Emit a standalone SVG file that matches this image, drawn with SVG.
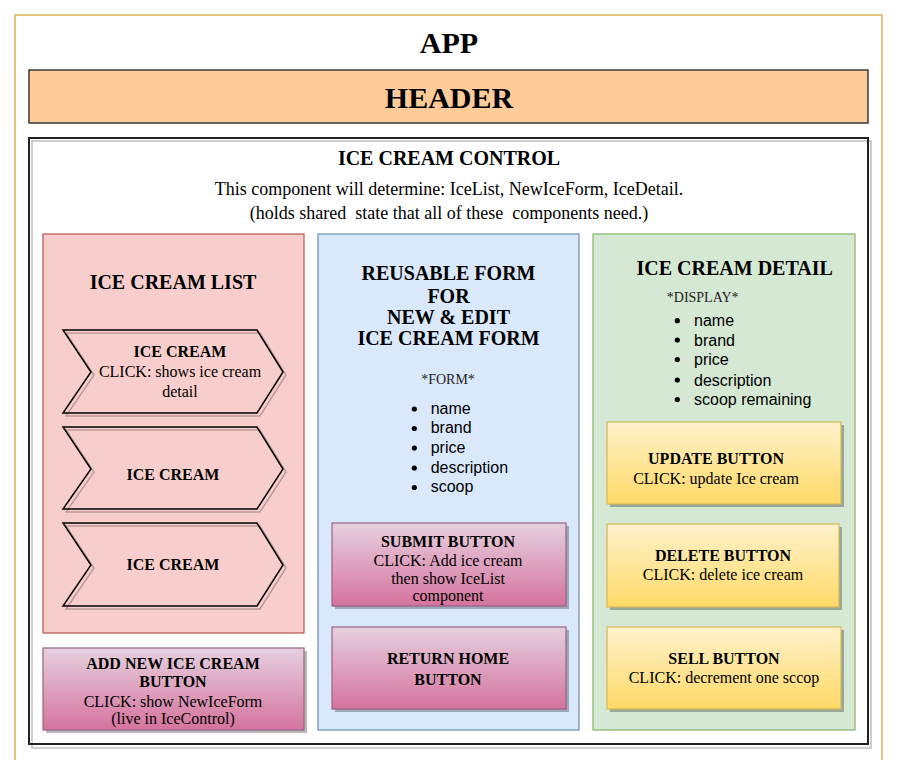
<svg xmlns="http://www.w3.org/2000/svg" width="898" height="760" viewBox="0 0 898 760">
<style>
.serif{font-family:"Liberation Serif","Times New Roman",serif;fill:#000}
.sans{font-family:"Liberation Sans",Arial,sans-serif;fill:#000;font-size:16px}
.b{font-weight:bold}
.t{font-size:16px}
.sub{font-size:18px}
.h{font-size:20px;font-weight:bold}
.big{font-size:30px;font-weight:bold}
.small{font-size:14px;fill:#222}
.shadow{fill:#000;fill-opacity:0.28}
.sline{fill:none;stroke:#000;stroke-opacity:0.25;stroke-width:1.5}
.chev{fill:none;stroke:#000;stroke-width:1.5}
.pinkbtn{fill:url(#gPink);stroke:#996185;stroke-width:1.2}
.yelbtn{fill:url(#gYel);stroke:#d6b656;stroke-width:1.2}
.dot{fill:#000}
</style>
<defs>
<linearGradient id="gPink" x1="0" y1="0" x2="0" y2="1"><stop offset="0" stop-color="#e6d0de"/><stop offset="1" stop-color="#d5739d"/></linearGradient>
<linearGradient id="gYel" x1="0" y1="0" x2="0" y2="1"><stop offset="0" stop-color="#fff2cc"/><stop offset="1" stop-color="#ffd966"/></linearGradient>
</defs>
<rect width="898" height="760" fill="#fff"/>

<g id="app">
<rect x="15" y="15" width="867" height="760" fill="#fff" stroke="#d6b656" stroke-width="1.5"/>
<text class="serif big" x="449" y="53" text-anchor="middle">APP</text>
</g>

<g id="header">
<rect x="29" y="70" width="839" height="53" fill="#ffcc99" stroke="#36393d" stroke-width="1.5"/>
<text class="serif big" x="449" y="108" text-anchor="middle">HEADER</text>
</g>

<g id="ice-cream-control">
<rect class="sline" x="32" y="141" width="839" height="607"/>
<rect x="29" y="138" width="839" height="606" fill="none" stroke="#222" stroke-width="2"/>
<text class="serif h" x="449" y="165" text-anchor="middle">ICE CREAM CONTROL</text>
<text class="serif sub" x="449" y="195" text-anchor="middle">This component will determine: IceList, NewIceForm, IceDetail.</text>
<text class="serif sub" x="449" y="219" text-anchor="middle" style="white-space:pre">(holds shared  state that all of these  components need.)</text>
</g>

<g id="ice-cream-list">
<rect x="43" y="234" width="261" height="399" fill="#f8cecc" stroke="#b85450" stroke-width="1.2"/>
<text class="serif h" x="173" y="289" text-anchor="middle">ICE CREAM LIST</text>
</g>

<g id="ice-cream-1">
<polygon class="sline" points="66,333 260,333 286,375 260,416 66,416 94,375"/>
<polygon class="chev" points="63,330 257,330 283,372 257,413 63,413 91,372"/>
<text class="serif t b" x="180" y="357" text-anchor="middle">ICE CREAM</text>
<text class="serif t" x="180" y="377" text-anchor="middle">CLICK: shows ice cream</text>
<text class="serif t" x="180" y="397" text-anchor="middle">detail</text>
</g>

<g id="ice-cream-2">
<polygon class="sline" points="66,430 260,430 286,472 260,512 66,512 94,472"/>
<polygon class="chev" points="63,427 257,427 283,469 257,509 63,509 91,469"/>
<text class="serif t b" x="173" y="480" text-anchor="middle">ICE CREAM</text>
</g>

<g id="ice-cream-3">
<polygon class="sline" points="66,526 260,526 286,568 260,609 66,609 94,568"/>
<polygon class="chev" points="63,523 257,523 283,565 257,606 63,606 91,565"/>
<text class="serif t b" x="173" y="570" text-anchor="middle">ICE CREAM</text>
</g>

<g id="add-new-button">
<rect class="shadow" x="46" y="651" width="261" height="82"/>
<rect class="pinkbtn" x="43" y="648" width="261" height="82"/>
<text class="serif t b" x="173" y="669" text-anchor="middle">ADD NEW ICE CREAM</text>
<text class="serif t b" x="173" y="687" text-anchor="middle">BUTTON</text>
<text class="serif t" x="173" y="707" text-anchor="middle">CLICK: show NewIceForm</text>
<text class="serif t" x="173" y="724" text-anchor="middle">(live in IceControl)</text>
</g>

<g id="reusable-form">
<rect x="318" y="234" width="261" height="496" fill="#dae8fc" stroke="#6c8ebf" stroke-width="1.2"/>
<text class="serif h" x="448.5" y="280" text-anchor="middle">REUSABLE FORM</text>
<text class="serif h" x="448.5" y="303" text-anchor="middle">FOR</text>
<text class="serif h" x="448.5" y="324" text-anchor="middle">NEW &amp; EDIT</text>
<text class="serif h" x="448.5" y="345" text-anchor="middle">ICE CREAM FORM</text>
<text class="serif small" x="448" y="384" text-anchor="middle">*FORM*</text>
<circle class="dot" cx="414.3" cy="409" r="2.6"/>
<circle class="dot" cx="414.3" cy="428.5" r="2.6"/>
<circle class="dot" cx="414.3" cy="448" r="2.6"/>
<circle class="dot" cx="414.3" cy="468" r="2.6"/>
<circle class="dot" cx="414.3" cy="487.5" r="2.6"/>
<text class="sans" x="430.7" y="414">name</text>
<text class="sans" x="430.7" y="433">brand</text>
<text class="sans" x="430.7" y="452.5">price</text>
<text class="sans" x="430.7" y="473">description</text>
<text class="sans" x="430.7" y="492">scoop</text>
</g>

<g id="submit-button">
<rect class="shadow" x="335" y="526" width="234" height="83"/>
<rect class="pinkbtn" x="332" y="523" width="234" height="83"/>
<text class="serif t b" x="448" y="547" text-anchor="middle">SUBMIT BUTTON</text>
<text class="serif t" x="448" y="565.5" text-anchor="middle">CLICK: Add ice cream</text>
<text class="serif t" x="448" y="583.5" text-anchor="middle">then show IceList</text>
<text class="serif t" x="448" y="601" text-anchor="middle">component</text>
</g>

<g id="return-home-button">
<rect class="shadow" x="335" y="630" width="234" height="82"/>
<rect class="pinkbtn" x="332" y="627" width="234" height="82"/>
<text class="serif t b" x="448" y="664" text-anchor="middle">RETURN HOME</text>
<text class="serif t b" x="448" y="684.5" text-anchor="middle">BUTTON</text>
</g>

<g id="ice-cream-detail">
<rect x="593" y="234" width="262" height="496" fill="#d5e8d4" stroke="#82b366" stroke-width="1.2"/>
<text class="serif h" x="734.7" y="275" text-anchor="middle">ICE CREAM DETAIL</text>
<text class="serif small" x="702.7" y="301.5" text-anchor="middle">*DISPLAY*</text>
<circle class="dot" cx="677.3" cy="320.7" r="2.6"/>
<circle class="dot" cx="677.3" cy="340" r="2.6"/>
<circle class="dot" cx="677.3" cy="359.5" r="2.6"/>
<circle class="dot" cx="677.3" cy="380" r="2.6"/>
<circle class="dot" cx="677.3" cy="399.5" r="2.6"/>
<text class="sans" x="694" y="326">name</text>
<text class="sans" x="694" y="345.5">brand</text>
<text class="sans" x="694" y="365">price</text>
<text class="sans" x="694" y="385.5">description</text>
<text class="sans" x="694" y="405">scoop remaining</text>
</g>

<g id="update-button">
<rect class="shadow" x="610" y="425" width="234" height="82"/>
<rect class="yelbtn" x="607" y="422" width="234" height="82"/>
<text class="serif t b" x="716" y="464" text-anchor="middle">UPDATE BUTTON</text>
<text class="serif t" x="716" y="484" text-anchor="middle">CLICK: update Ice cream</text>
</g>

<g id="delete-button">
<rect class="shadow" x="610" y="527" width="232" height="83"/>
<rect class="yelbtn" x="607" y="524" width="232" height="83"/>
<text class="serif t b" x="723" y="560.5" text-anchor="middle">DELETE BUTTON</text>
<text class="serif t" x="723" y="580" text-anchor="middle">CLICK: delete ice cream</text>
</g>

<g id="sell-button">
<rect class="shadow" x="610" y="630" width="234" height="82"/>
<rect class="yelbtn" x="607" y="627" width="234" height="82"/>
<text class="serif t b" x="724" y="664" text-anchor="middle">SELL BUTTON</text>
<text class="serif t" x="724" y="683" text-anchor="middle">CLICK: decrement one sccop</text>
</g>

<g id="connectors"></g>
</svg>
